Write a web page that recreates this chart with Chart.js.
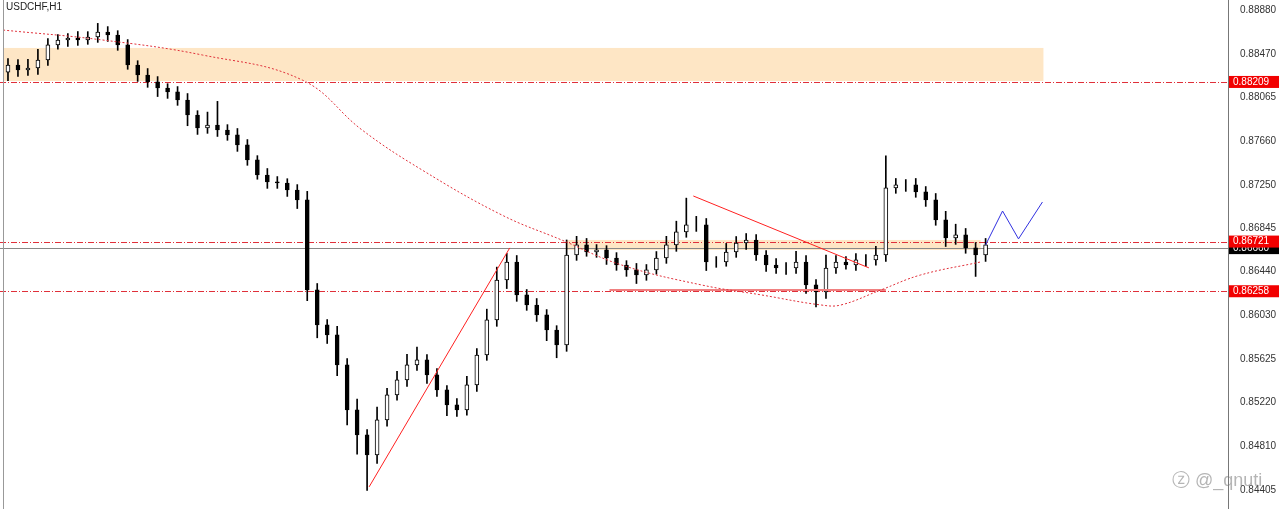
<!DOCTYPE html>
<html><head><meta charset="utf-8">
<script src="https://cdn.jsdelivr.net/npm/chart.js@4"></script>
<style>html,body{margin:0;padding:0;background:#fff;overflow:hidden}canvas{display:block}</style>
</head><body><canvas id="c" width="1280" height="509"></canvas>
<script>
const symbolTitle = "USDCHF,H1";
const closes = [0.88367,0.88321,0.88339,0.88414,0.88554,0.88600,0.88619,0.88600,0.88628,0.88675,0.88647,0.88554,0.88367,0.88274,0.88209,0.88153,0.88116,0.88041,0.87901,0.87780,0.87808,0.87761,0.87715,0.87622,0.87482,0.87342,0.87277,0.87267,0.87202,0.87109,0.86270,0.85944,0.85851,0.85571,0.85152,0.84919,0.84732,0.85059,0.85292,0.85431,0.85571,0.85618,0.85478,0.85338,0.85198,0.85152,0.85385,0.85664,0.85991,0.86363,0.86531,0.86224,0.86130,0.86037,0.85897,0.85758,0.86596,0.86690,0.86624,0.86643,0.86568,0.86503,0.86457,0.86410,0.86457,0.86568,0.86690,0.86811,0.86876,0.86876,0.86531,0.86531,0.86624,0.86708,0.86736,0.86596,0.86503,0.86475,0.86475,0.86531,0.86317,0.86252,0.86475,0.86531,0.86503,0.86550,0.86550,0.86596,0.87221,0.87249,0.87249,0.87184,0.87109,0.86923,0.86755,0.86783,0.86662,0.86596,0.86690];
const firstOpen = 0.88300;
const wickHiPips = [6,5,8,10,6,5,4,6,5,8,5,4,5,4,6,5,4,5,6,4,12,22,5,6,5,4,6,5,4,5,8,6,5,8,6,10,5,12,6,8,10,12,5,6,4,6,8,6,10,12,8,6,5,6,5,4,14,8,6,5,4,5,4,6,5,6,8,10,25,8,6,5,8,6,6,5,4,6,5,10,6,5,12,6,5,6,5,8,30,6,5,6,5,6,8,10,6,5,6];
const wickLoPips = [8,6,5,6,5,4,6,5,4,5,6,5,4,6,5,8,6,5,10,6,5,6,5,6,5,4,6,5,6,8,10,12,8,10,14,18,33,8,6,5,6,5,8,6,10,6,5,6,5,6,8,6,5,6,10,12,6,5,4,5,6,5,6,8,5,4,5,6,5,6,8,5,4,5,6,5,6,5,6,5,8,14,6,5,4,5,6,5,6,5,6,5,6,5,8,6,5,20,6];
const yTicks = [0.88880,0.88470,0.88065,0.87660,0.87250,0.86845,0.86440,0.86030,0.85625,0.85220,0.84810,0.84405];
const maIdx = [-0.5,9.5,19.5,29.5,35.5,41.5,49.5,55.5,61.5,69.5,75.5,81.5,83.5,87.5,91.5,97.5];
const maVal = [0.88693,0.88600,0.88460,0.88227,0.87761,0.87389,0.86969,0.86736,0.86503,0.86317,0.86224,0.86130,0.86130,0.86270,0.86410,0.86531];
const trend1 = [[36.2,0.84434],[50.3,0.86662]];
const trend2 = [[68.7,0.87146],[86.3,0.86476]];
const supportSeg = [[60.3,0.86270],[88.0,0.86270]];
const zigzag = [[98,0.86690],[99.7,0.87006],[101.3,0.86746],[103.7,0.87090]];
const zones = [{x0:-0.5,x1:103.8,top:0.88526,bot:0.88218},{x0:56,x1:97.5,top:0.86736,bot:0.86643}];
const levels = [{v:0.88209,label:"0.88209"},{v:0.86721,label:"0.86721"},{v:0.86258,label:"0.86258"}];
const bidLevel = 0.86660;
const watermark = "@_qnuti";

const bodies=[],wicks=[],fillB=[];
closes.forEach((c,i)=>{
  const o = i===0?firstOpen:closes[i-1];
  bodies.push({x:i,y:[o,c]});
  wicks.push({x:i,y:[Math.min(o,c)-(wickLoPips[i]??5)*0.0001, Math.max(o,c)+(wickHiPips[i]??5)*0.0001]});
  fillB.push(c>=o?'#ffffff':'#000000');
});

const overlay={id:'ov',
 beforeDatasetsDraw(ch){const {ctx,scales:{x,y},chartArea:a}=ch;ctx.save();
  ctx.fillStyle='rgba(253,221,178,0.75)';
  zones.forEach(z=>{ctx.fillRect(x.getPixelForValue(z.x0),y.getPixelForValue(z.top),x.getPixelForValue(z.x1)-x.getPixelForValue(z.x0),y.getPixelForValue(z.bot)-y.getPixelForValue(z.top));});
  ctx.strokeStyle='#888';ctx.lineWidth=1;const by=Math.round(y.getPixelForValue(bidLevel))+0.5;ctx.beginPath();ctx.moveTo(a.left,by);ctx.lineTo(a.right,by);ctx.stroke();
  ctx.strokeStyle='#e0303a';ctx.setLineDash([6,2,1,2]);
  levels.forEach(l=>{const py=Math.round(y.getPixelForValue(l.v))+0.5;ctx.beginPath();ctx.moveTo(a.left,py);ctx.lineTo(a.right,py);ctx.stroke();});
  ctx.restore();},
 afterDraw(ch){const {ctx,scales:{y},chartArea:a}=ch;ctx.save();
  ctx.font='10px "Liberation Sans", Arial';ctx.textBaseline='middle';
  const by=y.getPixelForValue(bidLevel);ctx.fillStyle='#000';ctx.fillRect(a.right+1,by-6,50,12);ctx.fillStyle='#fff';ctx.fillText('0.86660',a.right+5,by);
  levels.forEach(l=>{const py=y.getPixelForValue(l.v);ctx.fillStyle='#f20000';ctx.fillRect(a.right+1,py-6,50,12);ctx.fillStyle='#fff';ctx.fillText(l.label,a.right+5,py);});
  ctx.fillStyle='#222';ctx.textBaseline='top';ctx.fillText(symbolTitle,6,2);
  ctx.fillStyle='rgba(120,120,120,0.55)';ctx.font='18px "Liberation Sans", Arial';ctx.textBaseline='middle';ctx.fillText('ⓩ '+watermark,1172,481);
  ctx.strokeStyle='#999';ctx.beginPath();ctx.moveTo(3.5,a.top);ctx.lineTo(3.5,a.bottom);ctx.stroke();
  ctx.restore();}
};
const toXY=arr=>arr.map(p=>({x:p[0],y:p[1]}));
new Chart(document.getElementById('c'),{
 data:{datasets:[
  {type:'bar',data:wicks,backgroundColor:'#000',barThickness:1,grouped:false,order:3},
  {type:'bar',data:bodies,backgroundColor:fillB,borderColor:'#000',borderWidth:1,borderSkipped:false,barThickness:4,grouped:false,order:2},
  {type:'line',data:maIdx.map((v,i)=>({x:v,y:maVal[i]})),borderColor:'#e0303a',borderWidth:1,borderDash:[2,2],pointRadius:0,tension:0.4,order:1},
  {type:'line',data:toXY(trend1),borderColor:'#ff2020',borderWidth:1,pointRadius:0,order:1},
  {type:'line',data:toXY(trend2),borderColor:'#ff2020',borderWidth:1,pointRadius:0,order:1},
  {type:'line',data:toXY(supportSeg),borderColor:'#f08080',borderWidth:2,pointRadius:0,order:1},
  {type:'line',data:toXY(zigzag),borderColor:'#3030e0',borderWidth:1,pointRadius:0,order:1}
 ]},
 options:{responsive:false,animation:false,layout:{padding:0},
  plugins:{legend:{display:false},tooltip:{enabled:false}},
  scales:{
   x:{type:'linear',min:-0.8,max:122.3,display:false,offset:false},
   y:{position:'right',min:0.84228,max:0.88973,
      afterBuildTicks(s){s.ticks=yTicks.map(v=>({value:v}));},
      afterFit(s){s.width=52;s.paddingTop=0;s.paddingBottom=0;},
      grid:{display:false},border:{display:true,color:'#777'},
      ticks:{color:'#333',font:{size:10,family:'"Liberation Sans", Arial'},padding:4,callback:v=>v.toFixed(5)}}
  }},
 plugins:[overlay]
});
</script></body></html>
